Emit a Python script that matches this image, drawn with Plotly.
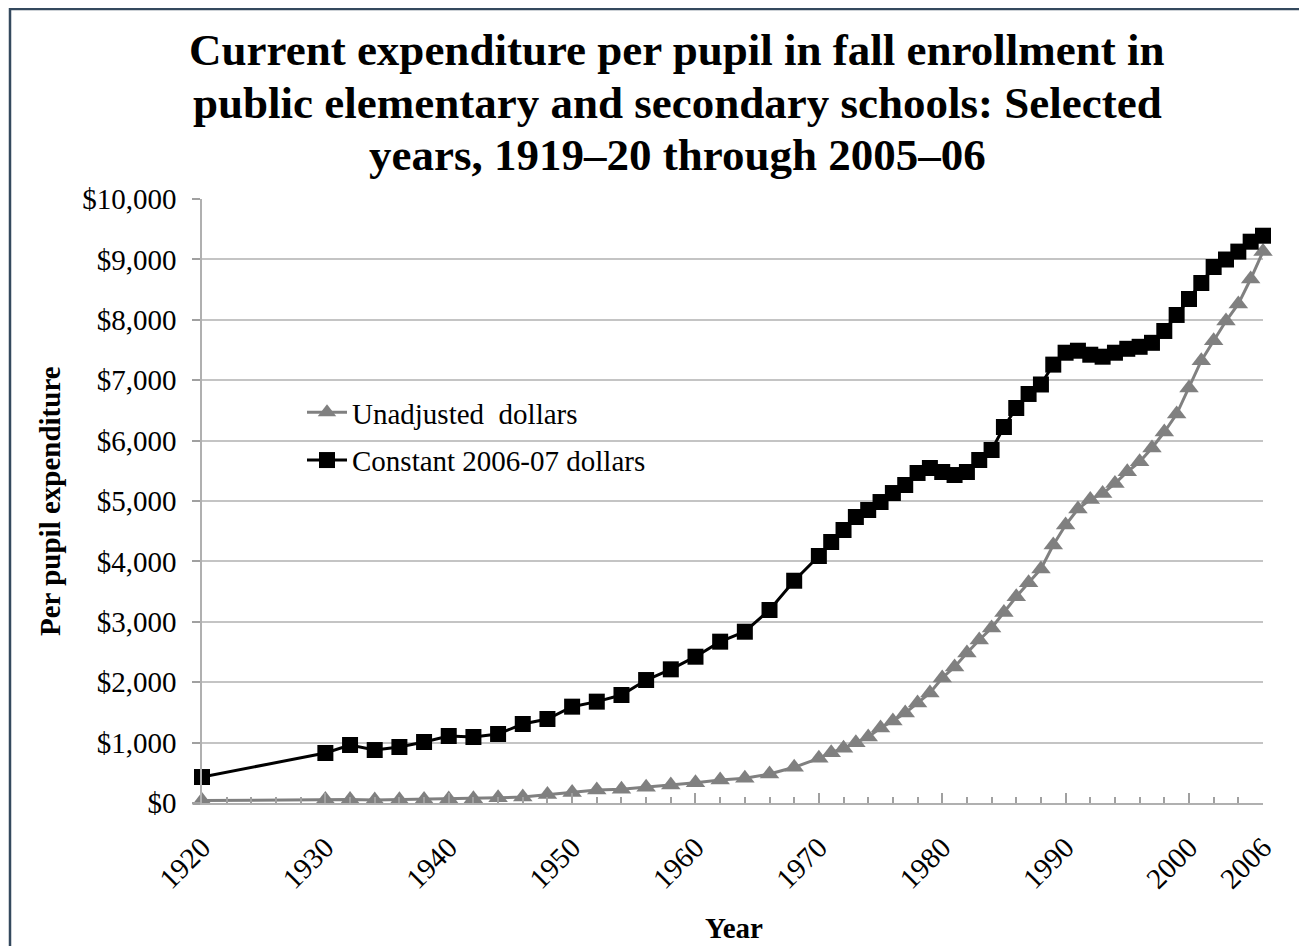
import plotly.graph_objects as go

years = [1920, 1930, 1932, 1934, 1936, 1938, 1940, 1942, 1944, 1946, 1948,
         1950, 1952, 1954, 1956, 1958, 1960, 1962, 1964, 1966, 1968, 1970,
         1971, 1972, 1973, 1974, 1975, 1976, 1977, 1978, 1979, 1980,
         1981, 1982, 1983, 1984, 1985, 1986, 1987, 1988, 1989, 1990,
         1991, 1992, 1993, 1994, 1995, 1996, 1997, 1998, 1999, 2000,
         2001, 2002, 2003, 2004, 2005, 2006]

unadjusted = [40, 60, 58, 50, 55, 60, 65, 72, 85, 100, 140,
              175, 215, 227, 260, 298, 336, 381, 409, 480, 591, 740,
              833, 906, 998, 1093, 1242, 1358, 1490, 1656, 1821, 2070,
              2252, 2483, 2699, 2897, 3152, 3415, 3646, 3874, 4272, 4603,
              4868, 5025, 5123, 5288, 5485, 5649, 5877, 6142, 6440, 6871,
              7323, 7652, 7980, 8262, 8675, 9129]

constant = [430, 828, 960, 877, 927, 1010, 1109, 1093, 1142, 1308, 1391,
            1595, 1678, 1788, 2036, 2213, 2422, 2671, 2836, 3195, 3680, 4089,
            4321, 4520, 4735, 4851, 4983, 5132, 5265, 5464, 5546, 5480,
            5430, 5480, 5679, 5844, 6225, 6540, 6772, 6929, 7258, 7455,
            7488, 7422, 7389, 7455, 7520, 7553, 7619, 7815, 8080, 8344,
            8609, 8874, 8998, 9129, 9293, 9392]

x_tick_vals = [1920, 1930, 1940, 1950, 1960, 1970, 1980, 1990, 2000, 2006]
x_tick_text = ["1920", "1930", "1940", "1950", "1960", "1970", "1980", "1990", "2000", "2006"]
y_tick_vals = [0, 1000, 2000, 3000, 4000, 5000, 6000, 7000, 8000, 9000, 10000]
y_tick_text = ["$0", "$1,000", "$2,000", "$3,000", "$4,000", "$5,000",
               "$6,000", "$7,000", "$8,000", "$9,000", "$10,000"]

title_lines = ["Current expenditure per pupil in fall enrollment in",
               "public elementary and secondary schools: Selected",
               "years, 1919\u201320 through 2005\u201306"]
title_centers_px = [50, 103, 155]

SERIF = "Liberation Serif, Times New Roman, serif"
OFF = 8                      # page body margin of the generated html
W, H = 1307 - OFF, 946 - OFF
PL, PR, PT, PB = 202, 1263, 199, 803   # plot area in page pixels
L, T = PL - OFF, PT - OFF
R, B = W - (PR - OFF), H - (PB - OFF)
pw, ph = PR - PL, PB - PT


def px_x(p):
    return (p - PL) / pw


def px_y(p):
    return (PB - p) / ph


fig = go.Figure()
fig.add_trace(go.Scatter(
    x=years, y=unadjusted, name="Unadjusted  dollars", mode="lines+markers",
    line=dict(color="#808080", width=3),
    marker=dict(symbol="triangle-up", size=17, color="#808080"),
    legendgroup="a", cliponaxis=False))
fig.add_trace(go.Scatter(
    x=years, y=constant, name="Constant 2006-07 dollars", mode="lines+markers",
    line=dict(color="#000000", width=3),
    marker=dict(symbol="square", size=16, color="#000000"),
    legendgroup="b", cliponaxis=False))

annotations = []
for line, cy in zip(title_lines, title_centers_px):
    annotations.append(dict(text="<b>" + line + "</b>", xref="paper", yref="paper",
                            x=px_x(677), y=px_y(cy), showarrow=False,
                            xanchor="center", yanchor="middle",
                            font=dict(family=SERIF, size=45, color="black")))
annotations += [
    dict(text="<b>Per pupil expenditure</b>", xref="paper", yref="paper",
         x=px_x(50), y=0.5, textangle=-90, showarrow=False,
         xanchor="center", yanchor="middle",
         font=dict(family=SERIF, size=29, color="black")),
    dict(text="<b>Year</b>", xref="paper", yref="paper",
         x=px_x(734), y=px_y(928), showarrow=False, xanchor="center",
         yanchor="middle", font=dict(family=SERIF, size=29, color="black")),
]

fig.update_layout(
    width=W, height=H,
    margin=dict(l=L, r=R, t=T, b=B, autoexpand=False),
    paper_bgcolor="white", plot_bgcolor="white",
    font=dict(family=SERIF, size=29, color="black"),
    showlegend=True,
    legend=dict(x=px_x(302), y=px_y(387), xanchor="left", yanchor="top",
                bgcolor="rgba(0,0,0,0)", font=dict(family=SERIF, size=29),
                traceorder="grouped", tracegroupgap=7, itemwidth=40),
    xaxis=dict(range=[1920, 2006], tickmode="array", tickvals=x_tick_vals,
               ticktext=x_tick_text, tickangle=-45, ticks="inside", ticklen=10,
               tickcolor="#a0a0a0", tickwidth=1.5,
               showline=True, linecolor="#b0b0b0", linewidth=2,
               showgrid=False, zeroline=False, ticklabelstandoff=14,
               tickfont=dict(family=SERIF, size=29),
               minor=dict(tickmode="linear", tick0=1920, dtick=2, ticks="inside",
                          ticklen=6, tickcolor="#a0a0a0", tickwidth=1.5,
                          showgrid=False)),
    yaxis=dict(range=[0, 10000], tickmode="array", tickvals=y_tick_vals,
               ticktext=y_tick_text, ticks="outside", ticklen=8,
               tickcolor="#a0a0a0", tickwidth=1.5,
               showline=True, linecolor="#b0b0b0", linewidth=1.5,
               showgrid=True, gridcolor="#c4c4c4", gridwidth=2,
               zeroline=False, ticklabelstandoff=10,
               tickfont=dict(family=SERIF, size=29)),
    annotations=annotations,
    shapes=[
        dict(type="rect", xref="paper", yref="paper", layer="above",
             x0=px_x(10), x1=px_x(1330), y0=px_y(970), y1=px_y(9),
             fillcolor="rgba(0,0,0,0)", line=dict(color="#34495e", width=2.5)),
    ],
)

fig.write_html("out.html")
